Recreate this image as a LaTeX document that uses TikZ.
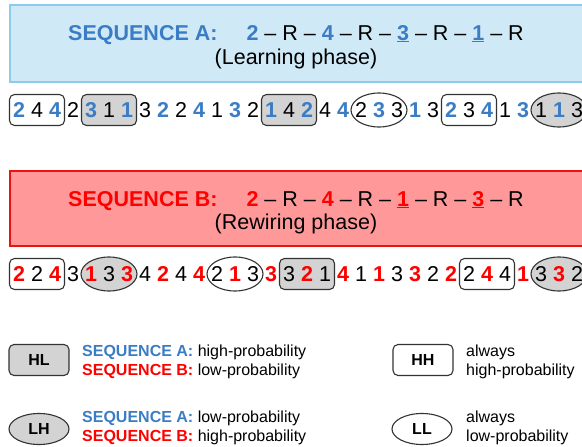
\documentclass[tikz,border=0pt]{standalone}
\usepackage{fontspec}
\setmainfont{Liberation Sans}
\usetikzlibrary{shapes.geometric,backgrounds}

\definecolor{seqblue}{RGB}{59,125,196}
\definecolor{seqred}{RGB}{255,0,0}
\definecolor{panelA}{RGB}{207,234,246}
\definecolor{edgeA}{RGB}{140,204,234}
\definecolor{panelB}{RGB}{255,153,153}
\definecolor{edgeB}{RGB}{232,20,20}
\definecolor{hlgray}{RGB}{211,211,211}

\newcommand{\pA}[1]{\textcolor{seqblue}{\bfseries #1}}
\newcommand{\pB}[1]{\textcolor{seqred}{\bfseries #1}}

\begin{document}
\begin{tikzpicture}[x=1pt,y=-1pt,
  big/.style={font=\fontsize{21.5}{26}\selectfont},
  title node/.style={big,inner sep=0pt,anchor=base},
  dig node/.style={big,inner sep=0pt},
  pa node/.style={dig node,text=seqblue,font=\fontsize{21.5}{26}\selectfont\bfseries},
  pb node/.style={dig node,text=seqred,font=\fontsize{21.5}{26}\selectfont\bfseries},
  hh box/.style={rectangle,rounded corners=5pt,draw=black!80,line width=1.1pt,
    minimum width=55pt,minimum height=31pt,inner sep=0pt},
  hl box/.style={hh box,fill=hlgray},
  ll ell/.style={ellipse,draw=black!80,line width=1.1pt,
    minimum width=56pt,minimum height=34pt,inner sep=0pt},
  lh ell/.style={ll ell,fill=hlgray},
  key/.style={minimum width=60pt,minimum height=31pt,
    font=\fontsize{16}{19.5}\selectfont\bfseries},
  key text/.style={anchor=west,align=left,inner sep=0pt,
    font=\fontsize{16}{19.5}\selectfont}]

  \clip (0,0) rectangle (582,447);

  % sequence A
  \draw[fill=panelA,draw=edgeA,line width=1.2pt] (10,5) rectangle (600,82);
  \node[title node] (titleA) at (296,40)
    {\pA{SEQUENCE A:}\hspace{29pt}\pA{2} – R – \pA{4} – R – \pA{\underline{3}} – R – \pA{\underline{1}} – R};
  \node[title node] (phaseA) at (296,64) {(Learning phase)};

  \foreach \d [count=\i] in {2,4,4,2,3,1,1,3,2,2,4,1,3,2,1,4,2,4,4,2,3,3,1,3,2,3,4,1,3,1,1,3} {
    \ifodd\i \def\st{pa node}\else\def\st{dig node}\fi
    \node[\st] (a\i) at ({19+(\i-1)*18},110) {\d};
  }

  % sequence B
  \draw[fill=panelB,draw=edgeB,line width=1.2pt] (10,171) rectangle (600,246);
  \node[title node] (titleB) at (296,206)
    {\pB{SEQUENCE B:}\hspace{29pt}\pB{2} – R – \pB{4} – R – \pB{\underline{1}} – R – \pB{\underline{3}} – R};
  \node[title node] (phaseB) at (296,229) {(Rewiring phase)};

  \foreach \d [count=\i] in {2,2,4,3,1,3,3,4,2,4,4,2,1,3,3,3,2,1,4,1,1,3,3,2,2,2,4,4,1,3,3,2} {
    \ifodd\i \def\st{pb node}\else\def\st{dig node}\fi
    \node[\st] (b\i) at ({19+(\i-1)*18},274) {\d};
  }

  \begin{scope}[on background layer]
    \node[hh box] (a1box) at (a2) {};
    \node[hl box] (a5box) at (a6) {};
    \node[hl box] (a15box) at (a16) {};
    \node[ll ell] (a20box) at (a21) {};
    \node[hh box] (a25box) at (a26) {};
    \node[lh ell] (a30box) at (a31) {};

    \node[hh box] (b1box) at (b2) {};
    \node[lh ell] (b5box) at (b6) {};
    \node[ll ell] (b12box) at (b13) {};
    \node[hl box] (b16box) at (b17) {};
    \node[hh box] (b26box) at (b27) {};
    \node[lh ell] (b30box) at (b31) {};
  \end{scope}

  % legend
  \node[hl box,key] (hl) at (39,360) {HL};
  \node[key text] (hltxt) at (82,362)
    {\pA{SEQUENCE A:} high-probability\\ \pB{SEQUENCE B:} low-probability};
  \node[hh box,key] (hh) at (423,360) {HH};
  \node[key text] (hhtxt) at (466,362) {always\\ high-probability};
  \node[lh ell,key,minimum height=31pt] (lh) at (39,429) {LH};
  \node[key text] (lhtxt) at (82,428)
    {\pA{SEQUENCE A:} low-probability\\ \pB{SEQUENCE B:} high-probability};
  \node[ll ell,key,minimum height=31pt] (ll) at (422,429) {LL};
  \node[key text] (lltxt) at (466,428) {always\\ low-probability};

\end{tikzpicture}
\end{document}
